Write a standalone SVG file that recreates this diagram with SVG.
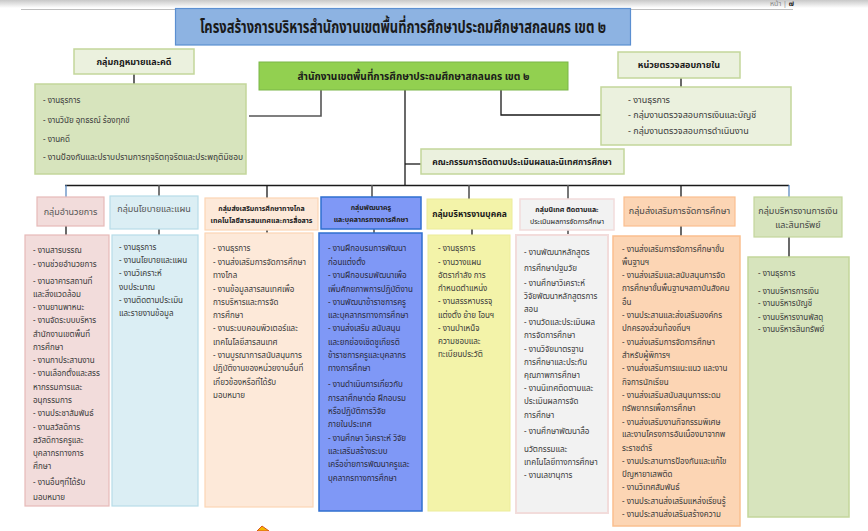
<svg xmlns="http://www.w3.org/2000/svg" width="868" height="531" viewBox="0 0 868 531">
<defs>
<linearGradient id="topbar" x1="0" y1="0" x2="0" y2="1">
<stop offset="0" stop-color="#c8c8c8"/>
<stop offset="1" stop-color="#ffffff"/>
</linearGradient>
</defs>
<style>
text{font-family:"Noto Sans Thai","Noto Sans","DejaVu Sans","Liberation Sans",sans-serif;fill:#3a3a3a;}
.b{font-weight:bold;fill:#1a1a1a;}
.t{font-size:8px;}
.h{font-size:9px;}
.hs{font-size:7px;font-weight:bold;fill:#222;}
.c{text-anchor:middle;}
.ln{stroke:#1a1a1a;stroke-width:1.3;fill:none;}
.lg{stroke:#555;stroke-width:1.6;fill:none;}
.lb{stroke:#4f81bd;stroke-width:1.2;fill:none;}
.gl{fill:#d7e4bd;stroke:#c3d69b;stroke-width:1.5;}
.gp{fill:#ebf1de;stroke:#c3d69b;stroke-width:1.5;}
</style>
<rect x="0" y="0" width="868" height="8" fill="url(#topbar)"/>
<line x1="21" y1="9.5" x2="793" y2="9.5" stroke="#bfbfbf" stroke-width="1"/>
<text x="770" y="6" font-size="7" fill="#888" style="fill:#888">หน้า | <tspan font-weight="bold" style="fill:#222">๗</tspan></text>

<g id="connectors">
<line class="ln" x1="134" y1="74" x2="134" y2="84"/>
<polyline class="lg" points="249,116 321,116 321,90"/>
<polyline class="ln" points="501,90 501,115 601,115"/>
<line class="ln" x1="681" y1="78" x2="681" y2="87"/>
<line class="ln" x1="405" y1="90" x2="405" y2="185"/>
<line class="ln" x1="405" y1="164" x2="421" y2="164"/>
<line class="ln" x1="65" y1="185.5" x2="789" y2="185.5"/>
<line class="lb" x1="66" y1="185" x2="66" y2="197"/>
<line class="lb" x1="789" y1="185" x2="789" y2="197"/>
<line class="lg" x1="159" y1="185" x2="159" y2="197"/>
<line class="ln" x1="267" y1="185" x2="267" y2="198"/>
<line class="lg" x1="372" y1="185" x2="372" y2="197"/>
<line class="lg" x1="469" y1="185" x2="469" y2="199"/>
<line class="lg" x1="568" y1="185" x2="568" y2="199"/>
<line class="ln" x1="681" y1="185" x2="681" y2="197"/>
<line class="ln" x1="66" y1="226" x2="66" y2="235"/>
<line class="lg" x1="159" y1="229" x2="159" y2="235"/>
<line class="ln" x1="267" y1="230" x2="267" y2="233"/>
<line class="lg" x1="374" y1="229" x2="374" y2="233"/>
<line class="ln" x1="472" y1="229" x2="472" y2="235"/>
<line class="lg" x1="568" y1="230" x2="568" y2="235"/>
<line class="ln" x1="681" y1="226" x2="681" y2="236"/>
<line class="ln" x1="789" y1="237" x2="789" y2="257"/>
</g>

<g id="title">
<rect x="175.5" y="8.5" width="455" height="36.5" fill="#8db3e2" stroke="#5b8fd1" stroke-width="1.2"/>
<text class="b c" x="403" y="33" font-size="17" textLength="406" lengthAdjust="spacingAndGlyphs">โครงสร้างการบริหารสำนักงานเขตพื้นที่การศึกษาประถมศึกษาสกลนคร เขต ๒</text>
</g>

<g id="office">
<rect x="259" y="62" width="309" height="28" fill="#92d050" stroke="#7ab648" stroke-width="1"/>
<text class="b c" x="413.5" y="80" font-size="11" textLength="232" lengthAdjust="spacingAndGlyphs">สำนักงานเขตพื้นที่การศึกษาประถมศึกษาสกลนคร เขต ๒</text>
</g>

<g id="law">
<rect class="gp" x="74" y="49" width="120" height="25"/>
<text class="b c" x="134" y="65" font-size="9">กลุ่มกฎหมายและคดี</text>
<rect class="gl" x="35" y="84" width="211" height="90"/>
<text class="t" x="43" y="103">- งานธุรการ</text>
<text class="t" x="43" y="123">- งานวินัย อุทธรณ์ ร้องทุกข์</text>
<text class="t" x="43" y="142">- งานคดี</text>
<text class="t" x="43" y="160" textLength="200" lengthAdjust="spacingAndGlyphs">- งานป้องกันและปราบปรามการทุจริตทุจริตและประพฤติมิชอบ</text>
</g>

<g id="audit">
<rect class="gp" x="618" y="52" width="122" height="26"/>
<text class="b c" x="679" y="68" font-size="9">หน่วยตรวจสอบภายใน</text>
<rect class="gp" x="601" y="87" width="190" height="58"/>
<text class="h" x="628" y="103">- งานธุรการ</text>
<text class="h" x="628" y="118">- กลุ่มงานตรวจสอบการเงินและบัญชี</text>
<text class="h" x="628" y="134">- กลุ่มงานตรวจสอบการดำเนินงาน</text>
</g>

<g id="committee">
<rect class="gp" x="421" y="149" width="203" height="25"/>
<text class="b c" x="522" y="165" font-size="8.5">คณะกรรมการติดตามประเมินผลและนิเทศการศึกษา</text>
</g>

<g id="g1">
<rect x="37" y="197" width="67" height="29" fill="#f2dcdb" stroke="#e6b9b8" stroke-width="1.2"/>
<text class="h c" x="70.5" y="215" style="fill:#555">กลุ่มอำนวยการ</text>
<rect x="25" y="235" width="84" height="271" fill="#f2dcdb" stroke="#e6b9b8" stroke-width="1.2"/>
<text class="t" x="33"><tspan x="33" y="253">- งานสารบรรณ</tspan><tspan x="33" y="267">- งานช่วยอำนวยการ</tspan><tspan x="33" y="284">- งานอาคารสถานที่</tspan><tspan x="33" y="297">และสิ่งแวดล้อม</tspan><tspan x="33" y="310">- งานยานพาหนะ</tspan><tspan x="33" y="323">- งานจัดระบบบริหาร</tspan><tspan x="33" y="337">สำนักงานเขตพื้นที่</tspan><tspan x="33" y="350">การศึกษา</tspan><tspan x="33" y="363">- งานกาประสานงาน</tspan><tspan x="33" y="376">- งานเลือกตั้งและสรร</tspan><tspan x="33" y="390">หากรรมการและ</tspan><tspan x="33" y="403">อนุกรรมการ</tspan><tspan x="33" y="416">- งานประชาสัมพันธ์</tspan><tspan x="33" y="430">- งานสวัสดิการ</tspan><tspan x="33" y="443">สวัสดิการครูและ</tspan><tspan x="33" y="456">บุคลากรทางการ</tspan><tspan x="33" y="469">ศึกษา</tspan><tspan x="33" y="485">- งานอื่นๆที่ได้รับ</tspan><tspan x="33" y="500">มอบหมาย</tspan></text>
</g>

<g id="g2">
<rect x="110" y="196" width="88" height="33" fill="#dbeef4" stroke="#b7dde8" stroke-width="1.2"/>
<text class="h c" x="154" y="212" style="fill:#555">กลุ่มนโยบายและแผน</text>
<rect x="112" y="235" width="86" height="271" fill="#dbeef4" stroke="#b7dde8" stroke-width="1.2"/>
<text class="t"><tspan x="119" y="250">- งานธุรการ</tspan><tspan x="119" y="263">- งานนโยบายและแผน</tspan><tspan x="119" y="276">- งานวิเคราะห์</tspan><tspan x="119" y="290">งบประมาณ</tspan><tspan x="119" y="303">- งานติดตามประเมิน</tspan><tspan x="119" y="316">และรายงานข้อมูล</tspan></text>
</g>

<g id="g3">
<rect x="205" y="198" width="113" height="32" fill="#fde9d9" stroke="#fcd5b4" stroke-width="1.2"/>
<text class="hs c" x="261.5" y="211">กลุ่มส่งเสริมการศึกษาทางไกล</text>
<text class="hs c" x="261.5" y="223">เทคโนโลยีสารสนเทศและการสื่อสาร</text>
<rect x="205" y="233" width="108" height="274" fill="#fde9d9" stroke="#fcd5b4" stroke-width="1.2"/>
<text class="t"><tspan x="213" y="251">- งานธุรการ</tspan><tspan x="213" y="265">- งานส่งเสริมการจัดการศึกษา</tspan><tspan x="213" y="278">ทางไกล</tspan><tspan x="213" y="292">- งานข้อมูลสารสนเทศเพื่อ</tspan><tspan x="213" y="305">การบริหารและการจัด</tspan><tspan x="213" y="318">การศึกษา</tspan><tspan x="213" y="331">- งานระบบคอมพิวเตอร์และ</tspan><tspan x="213" y="345">เทคโนโลยีสารสนเทศ</tspan><tspan x="213" y="358">- งานบูรณาการสนับสนุนการ</tspan><tspan x="213" y="371">ปฏิบัติงานของหน่วยงานอื่นที่</tspan><tspan x="213" y="385">เกี่ยวข้องหรือที่ได้รับ</tspan><tspan x="213" y="398">มอบหมาย</tspan></text>
</g>

<g id="g4">
<rect x="321" y="197" width="100" height="32" fill="#7f98f6" stroke="#2f6fcf" stroke-width="1.5"/>
<text class="hs c" x="371" y="210">กลุ่มพัฒนาครู</text>
<text class="hs c" x="371" y="222">และบุคลากรทางการศึกษา</text>
<rect x="319" y="233" width="103" height="278" fill="#7f98f6" stroke="#2f6fcf" stroke-width="1.5"/>
<text class="t" style="fill:#2a2a3a"><tspan x="328" y="251">- งานฝึกอบรมการพัฒนา</tspan><tspan x="328" y="265">ก่อนแต่งตั้ง</tspan><tspan x="328" y="278">- งานฝึกอบรมพัฒนาเพื่อ</tspan><tspan x="328" y="292">เพิ่มศักยภาพการปฏิบัติงาน</tspan><tspan x="328" y="305">- งานพัฒนาข้าราชการครู</tspan><tspan x="328" y="318">และบุคลากรทางการศึกษา</tspan><tspan x="328" y="331">- งานส่งเสริม สนับสนุน</tspan><tspan x="328" y="345">และยกย่องเชิดชูเกียรติ</tspan><tspan x="328" y="358">ข้าราชการครูและบุคลากร</tspan><tspan x="328" y="371">ทางการศึกษา</tspan><tspan x="328" y="387">- งานดำเนินการเกี่ยวกับ</tspan><tspan x="328" y="401">การลาศึกษาต่อ ฝึกอบรม</tspan><tspan x="328" y="414">หรือปฏิบัติการวิจัย</tspan><tspan x="328" y="427">ภายในประเทศ</tspan><tspan x="328" y="441">- งานศึกษา วิเคราะห์ วิจัย</tspan><tspan x="328" y="454">และเสริมสร้างระบบ</tspan><tspan x="328" y="467">เครือข่ายการพัฒนาครูและ</tspan><tspan x="328" y="481">บุคลากรทางการศึกษา</tspan></text>
</g>

<g id="g5">
<rect x="427" y="199" width="85" height="30" fill="#f3f3a9" stroke="#ecec9a" stroke-width="1"/>
<text class="b c" x="469.5" y="217" font-size="8.5">กลุ่มบริหารงานบุคคล</text>
<rect x="428" y="235" width="82" height="276" fill="#f3f3a9" stroke="#ecec9a" stroke-width="1"/>
<text class="t"><tspan x="438" y="251">- งานธุรการ</tspan><tspan x="438" y="265">- งานวางแผน</tspan><tspan x="438" y="278">อัตรากำลัง การ</tspan><tspan x="438" y="291">กำหนดตำแหน่ง</tspan><tspan x="438" y="304">- งานสรรหาบรรจุ</tspan><tspan x="438" y="318">แต่งตั้ง ย้าย โอนฯ</tspan><tspan x="438" y="331">- งานบำเหน็จ</tspan><tspan x="438" y="344">ความชอบและ</tspan><tspan x="438" y="357">ทะเบียนประวัติ</tspan></text>
</g>

<g id="g6">
<rect x="520" y="199" width="94" height="31" fill="#f2f2f2" stroke="#f2dcdb" stroke-width="1.5"/>
<text class="hs c" x="567" y="212" font-size="6.8">กลุ่มนิเทศ ติดตามและ</text>
<text class="hs c" x="567" y="224" font-size="6.8" style="font-weight:normal">ประเมินผลการจัดการศึกษา</text>
<rect x="516" y="235" width="92" height="278" fill="#f2f2f2" stroke="#f2dcdb" stroke-width="2"/>
<text class="t"><tspan x="524" y="255">- งานพัฒนาหลักสูตร</tspan><tspan x="524" y="271">การศึกษาปฐมวัย</tspan><tspan x="524" y="286">- งานศึกษาวิเคราะห์</tspan><tspan x="524" y="299">วิจัยพัฒนาหลักสูตรการ</tspan><tspan x="524" y="312">สอน</tspan><tspan x="524" y="325">- งานวัดและประเมินผล</tspan><tspan x="524" y="338">การจัดการศึกษา</tspan><tspan x="524" y="352">- งานวิจัยมาตรฐาน</tspan><tspan x="524" y="365">การศึกษาและประกัน</tspan><tspan x="524" y="378">คุณภาพการศึกษา</tspan><tspan x="524" y="391">- งานนิเทศติดตามและ</tspan><tspan x="524" y="404">ประเมินผลการจัด</tspan><tspan x="524" y="418">การศึกษา</tspan><tspan x="524" y="434">- งานศึกษาพัฒนาสื่อ</tspan><tspan x="524" y="452">นวัตกรรมและ</tspan><tspan x="524" y="465">เทคโนโลยีทางการศึกษา</tspan><tspan x="524" y="478">- งานเลขานุการ</tspan></text>
</g>

<g id="g7">
<rect x="624" y="197" width="111" height="29" fill="#fcd5b4" stroke="#fabf8f" stroke-width="1.2"/>
<text class="h c" x="679.5" y="214" style="fill:#444">กลุ่มส่งเสริมการจัดการศึกษา</text>
<rect x="613" y="236" width="127" height="290" fill="#fcd5b4" stroke="#fabf8f" stroke-width="1.5"/>
<text class="t"><tspan x="622" y="252">- งานส่งเสริมการจัดการศึกษาขั้น</tspan><tspan x="622" y="265">พื้นฐานฯ</tspan><tspan x="622" y="278">- งานส่งเสริมและสนับสนุนการจัด</tspan><tspan x="622" y="291">การศึกษาขั้นพื้นฐานฯสถาบันสังคม</tspan><tspan x="622" y="305">อื่น</tspan><tspan x="622" y="318">- งานประสานและส่งเสริมองค์กร</tspan><tspan x="622" y="331">ปกครองส่วนท้องถิ่นฯ</tspan><tspan x="622" y="345">- งานส่งเสริมการจัดการศึกษา</tspan><tspan x="622" y="358">สำหรับผู้พิการฯ</tspan><tspan x="622" y="371">- งานส่งเสริมการแนะแนว และงาน</tspan><tspan x="622" y="385">กิจการนักเรียน</tspan><tspan x="622" y="398">- งานส่งเสริมสนับสนุนการระดม</tspan><tspan x="622" y="411">ทรัพยากรเพื่อการศึกษา</tspan><tspan x="622" y="425">- งานส่งเสริมงานกิจกรรมพิเศษ</tspan><tspan x="622" y="437">และงานโครงการอันเนื่องมาจากพ</tspan><tspan x="622" y="451">ระราชดำริ</tspan><tspan x="622" y="464">- งานประสานการป้องกันและแก้ไข</tspan><tspan x="622" y="477">ปัญหายาเสพติด</tspan><tspan x="622" y="490">- งานวิเทศสัมพันธ์</tspan><tspan x="622" y="504">- งานประสานส่งเสริมแหล่งเรียนรู้</tspan><tspan x="622" y="517">- งานประสานส่งเสริมสร้างความ</tspan></text>
</g>

<g id="g8">
<rect x="754" y="197" width="88" height="40" fill="#d7e4bd" stroke="#c3d69b" stroke-width="1.2"/>
<text class="h c" x="798" y="214" style="fill:#444">กลุ่มบริหารงานการเงิน</text>
<text class="h c" x="798" y="228" style="fill:#444">และสินทรัพย์</text>
<rect x="748" y="257" width="101" height="260" fill="#d7e4bd" stroke="#c3d69b" stroke-width="1.5"/>
<text class="t"><tspan x="758" y="276">- งานธุรการ</tspan><tspan x="758" y="294">- งานบริหารการเงิน</tspan><tspan x="758" y="306">- งานบริหารบัญชี</tspan><tspan x="758" y="320">- งานบริหารงานพัสดุ</tspan><tspan x="758" y="332">- งานบริหารสินทรัพย์</tspan></text>
</g>

<polygon points="262,526 257,531 269,531" fill="#f5b800" stroke="#d9531e" stroke-width="1"/>
</svg>
